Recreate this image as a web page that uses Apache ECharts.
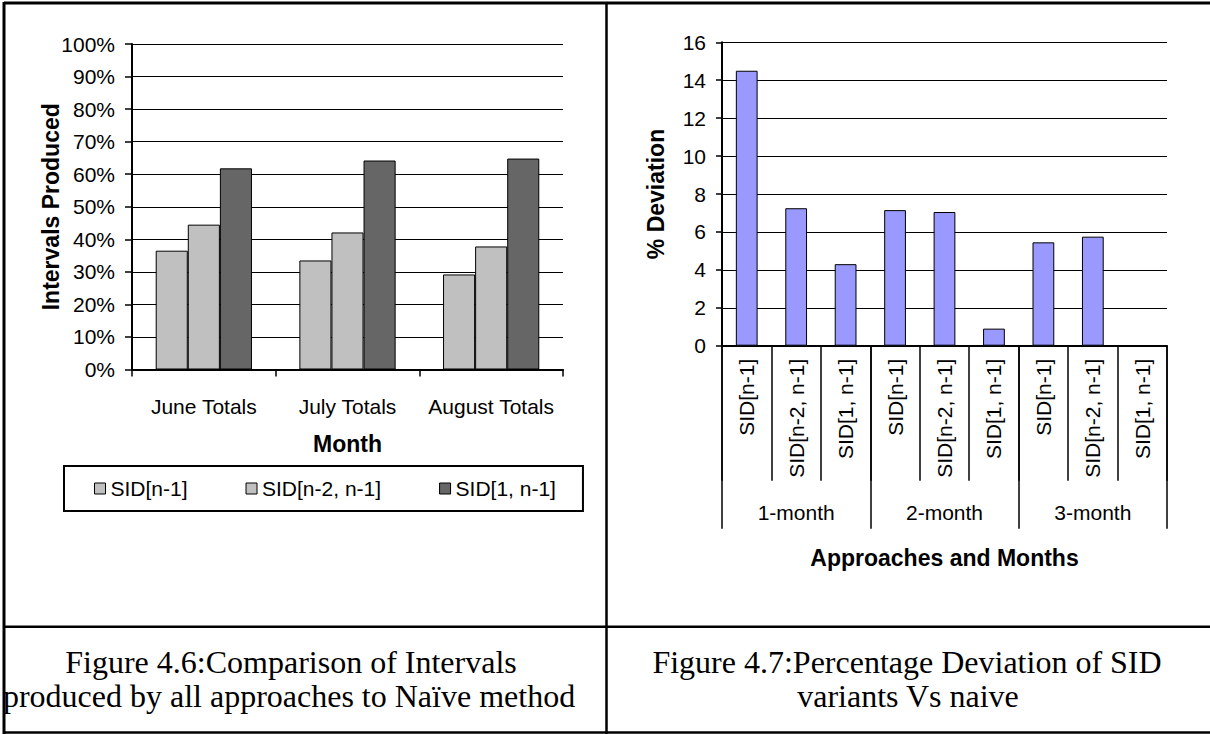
<!DOCTYPE html>
<html><head><meta charset="utf-8">
<script src="https://cdn.jsdelivr.net/npm/echarts@6/dist/echarts.min.js"></script>
<style>html,body{margin:0;padding:0;background:#fff}#c{width:1210px;height:734px}</style>
</head><body><div id="c"></div>
<script>
// ---- data ----
const monthCategories = ['June Totals', 'July Totals', 'August Totals'];
const seriesNames = ['SID[n-1]', 'SID[n-2, n-1]', 'SID[1, n-1]'];
const sidN1 = [36.5, 33.5, 29.2];
const sidN2N1 = [44.5, 42.1, 37.8];
const sid1N1 = [61.8, 64.2, 64.8];
const approachCategories = ['SID[n-1]', 'SID[n-2, n-1]', 'SID[1, n-1]',
                            'SID[n-1]', 'SID[n-2, n-1]', 'SID[1, n-1]',
                            'SID[n-1]', 'SID[n-2, n-1]', 'SID[1, n-1]'];
const monthGroups = ['1-month', '2-month', '3-month'];
const deviation = [14.5, 7.25, 4.3, 7.15, 7.05, 0.9, 5.45, 5.75, 0];
const captionLeft = ['Figure 4.6:Comparison of Intervals', 'produced by all approaches to Naïve method'];
const captionRight = ['Figure 4.7:Percentage Deviation of SID', 'variants Vs naive'];

const FONT = 'Liberation Sans, Arial, sans-serif';
const SERIF = '"Liberation Serif", "Times New Roman", serif';
const black = '#000';
const nameStyle = { fontFamily: FONT, fontWeight: 'bold', fontSize: 23, color: black };
const labelStyle = { fontFamily: FONT, fontSize: 21, color: black };

const chart = echarts.init(document.getElementById('c'), null, { renderer: 'svg' });

function line(x1, y1, x2, y2, w) {
  return { type: 'line', shape: { x1, y1, x2, y2 }, style: { stroke: black, lineWidth: w }, z: 100 };
}
function caption(text, x, y) {
  return { type: 'text', x, y, z: 100,
    style: { text, font: '32px ' + SERIF, fill: black, align: 'center', verticalAlign: 'middle' } };
}

chart.setOption({
  animation: false,
  backgroundColor: '#fff',
  grid: [
    { left: 132, top: 44, width: 431, height: 325.5, outerBoundsMode: 'none', containLabel: false },
    { left: 722, top: 42.3, width: 445, height: 303.4, outerBoundsMode: 'none', containLabel: false }
  ],
  legend: {
    data: seriesNames,
    left: 64, top: 466,
    padding: [12, 27, 12, 30],
    borderColor: black, borderWidth: 2,
    itemWidth: 11, itemHeight: 11, itemGap: 58,
    icon: 'rect',
    itemStyle: { borderColor: black, borderWidth: 1 },
    textStyle: { fontFamily: FONT, fontSize: 21, color: black }
  },
  xAxis: [
    {
      gridIndex: 0, type: 'category', data: monthCategories,
      axisLine: { lineStyle: { color: black, width: 2 } },
      axisTick: { show: true, length: 7, lineStyle: { color: black, width: 1.5 } },
      axisLabel: { ...labelStyle, margin: 26, interval: 0 },
      name: 'Month', nameLocation: 'middle', nameGap: 63, nameTextStyle: nameStyle, nameMoveOverlap: false,
      splitLine: { show: false }
    },
    {
      gridIndex: 1, type: 'category', data: approachCategories, position: 'bottom',
      axisLine: { lineStyle: { color: black, width: 2 } },
      axisTick: { show: true, length: 135, interval: 0, lineStyle: { color: black, width: 1.5 } },
      axisLabel: { ...labelStyle, rotate: 90, margin: 13, interval: 0 },
      splitLine: { show: false }
    },
    {
      gridIndex: 1, type: 'category', data: monthGroups, position: 'bottom', offset: 0,
      axisLine: { show: false },
      axisTick: { show: true, length: 183, interval: 0, lineStyle: { color: black, width: 1.5 } },
      axisLabel: { ...labelStyle, margin: 156, interval: 0 },
      name: 'Approaches and Months', nameLocation: 'middle', nameGap: 201, nameTextStyle: nameStyle, nameMoveOverlap: false,
      splitLine: { show: false }
    }
  ],
  yAxis: [
    {
      gridIndex: 0, type: 'value', min: 0, max: 100, interval: 10,
      axisLine: { show: true, lineStyle: { color: black, width: 2 } },
      axisTick: { show: true, length: 7, lineStyle: { color: black, width: 1.5 } },
      axisLabel: { ...labelStyle, margin: 17, formatter: '{value}%' },
      splitLine: { show: true, lineStyle: { color: black, width: 1 } },
      name: 'Intervals Produced', nameLocation: 'middle', nameGap: 70, nameTextStyle: nameStyle, nameMoveOverlap: false
    },
    {
      gridIndex: 1, type: 'value', min: 0, max: 16, interval: 2,
      axisLine: { show: true, lineStyle: { color: black, width: 2 } },
      axisTick: { show: true, length: 6, lineStyle: { color: black, width: 1.5 } },
      axisLabel: { ...labelStyle, margin: 16 },
      splitLine: { show: true, lineStyle: { color: black, width: 1 } },
      name: '% Deviation', nameLocation: 'middle', nameGap: 55, nameTextStyle: nameStyle, nameMoveOverlap: false
    }
  ],
  series: [
    { name: seriesNames[0], type: 'bar', xAxisIndex: 0, yAxisIndex: 0, data: sidN1,
      barGap: '0%', barCategoryGap: '33%',
      itemStyle: { color: '#C0C0C0', borderColor: black, borderWidth: 1 } },
    { name: seriesNames[1], type: 'bar', xAxisIndex: 0, yAxisIndex: 0, data: sidN2N1,
      barGap: '0%', barCategoryGap: '33%',
      itemStyle: { color: '#C0C0C0', borderColor: black, borderWidth: 1 } },
    { name: seriesNames[2], type: 'bar', xAxisIndex: 0, yAxisIndex: 0, data: sid1N1,
      barGap: '0%', barCategoryGap: '33%',
      itemStyle: { color: '#666666', borderColor: black, borderWidth: 1 } },
    { name: '% Deviation', type: 'bar', xAxisIndex: 1, yAxisIndex: 1, data: deviation,
      barCategoryGap: '56%',
      itemStyle: { color: '#9999FF', borderColor: black, borderWidth: 1 } }
  ],
  graphic: [
    line(4, 3, 1210, 3, 3),
    line(4, 2, 4, 734, 3),
    line(606.5, 2, 606.5, 734, 2.5),
    line(4, 626.7, 1210, 626.7, 2.5),
    line(4, 732.5, 1210, 732.5, 2.5),
    caption(captionLeft[0], 291, 662),
    caption(captionLeft[1], 289, 696),
    caption(captionRight[0], 907, 662),
    caption(captionRight[1], 908, 696)
  ]
});
</script>
</body></html>
